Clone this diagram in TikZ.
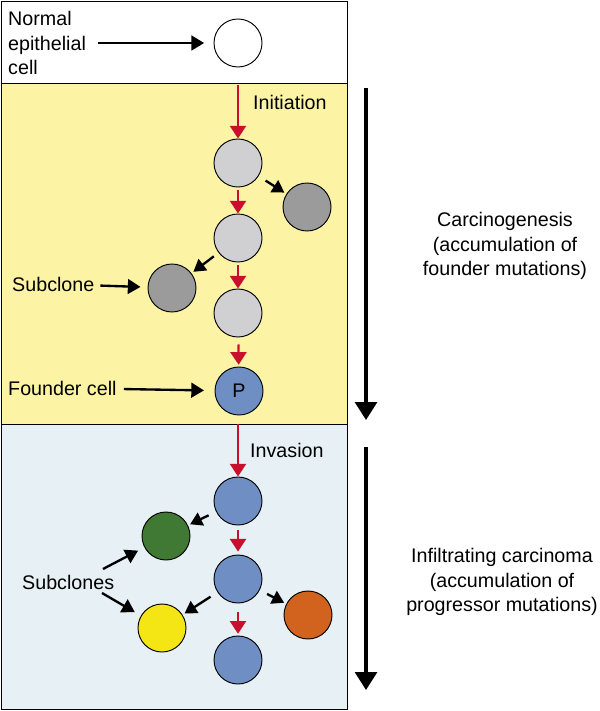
\documentclass[tikz,border=0pt]{standalone}
\usepackage{fontspec}
\setmainfont{Liberation Sans}
\usetikzlibrary{arrows.meta,positioning,calc}

\definecolor{boxyellow}{HTML}{FCF3A5}
\definecolor{boxblue}{HTML}{E7F0F5}
\definecolor{cellgray}{HTML}{D0D0D2}
\definecolor{subgray}{HTML}{9B9B9B}
\definecolor{cellblue}{HTML}{6F8FC4}
\definecolor{cellgreen}{HTML}{3F7934}
\definecolor{cellyellow}{HTML}{F4E515}
\definecolor{cellorange}{HTML}{D1631F}
\definecolor{arrowred}{HTML}{C8102E}

\begin{document}
\begin{tikzpicture}[
    x=0.03cm, y=-0.03cm,
    every node/.style={font=\fontsize{16.8}{21}\selectfont},
    cell/.style={circle, draw, line width=0.8pt, minimum size=1.44cm, inner sep=0pt},
    normalcell/.style={cell, fill=white},
    earlycell/.style={cell, fill=cellgray},
    branchcell/.style={cell, fill=subgray},
    tumorcell/.style={cell, fill=cellblue},
    labeltext/.style={inner sep=0pt, align=left},
    redarrow/.style={-{Triangle[length=3.8mm, width=4.8mm]}, draw=arrowred, line width=1.9pt},
    blkarrow/.style={-{Triangle[length=3.8mm, width=4.4mm]}, line width=2pt},
    splitarrow/.style={-{Triangle[length=3.6mm, width=4.2mm]}, line width=2pt},
    bigarrow/.style={-{Triangle[length=5.4mm, width=6.6mm]}, line width=2.6pt}
]
\useasboundingbox (0,0) rectangle (600,711);

% Boxes
\draw[line width=0.8pt, fill=white] (1,1) rectangle (347,83);
\draw[line width=0.8pt, fill=boxyellow] (1,83) rectangle (347,424);
\draw[line width=0.8pt, fill=boxblue] (1,424) rectangle (347,709);

% Normal cell
\node[normalcell] (normal) at (238,43) {};
\node[labeltext, anchor=west] (normaltxt) at (8,43) {Normal\\epithelial\\cell};

% Carcinogenesis
\node[earlycell] (g1) at (238,163) {};
\node[earlycell] (g2) at (238,238) {};
\node[earlycell] (g3) at (238,313) {};
\node[branchcell] (dr) at (307,207) {};
\node[branchcell] (dl) at (172,288) {};
\node[tumorcell] (P) at (239,391) {P};
\node[labeltext, anchor=west] (inittxt) at (253,102) {Initiation};
\node[labeltext, anchor=west] (subtxt) at (12,284) {Subclone};
\node[labeltext, anchor=west] (foundertxt) at (8,388) {Founder cell};
\coordinate (initpt) at (238,85);

% Infiltrating carcinoma
\node[tumorcell] (b1) at (238,501) {};
\node[tumorcell] (b2) at (238,579) {};
\node[tumorcell] (b3) at (238,660) {};
\node[cell, fill=cellgreen] (green) at (166,536) {};
\node[cell, fill=cellyellow] (yellow) at (162,628) {};
\node[cell, fill=cellorange] (orange) at (308,615) {};
\node[labeltext, anchor=west] (invtxt) at (250,450) {Invasion};
\node[labeltext, anchor=west] (substxt) at (22,582) {Subclones};
\coordinate (invpt) at (238,424);
\coordinate (subsup) at (103,569);
\coordinate (subsdn) at (102,593);

% Stages
\coordinate (stageA) at (366,88);
\coordinate (stageAend) at (366,420);
\coordinate (stageB) at (366,447);
\coordinate (stageBend) at (366,690);
\node[align=center] (carcino) at (505,246) {Carcinogenesis\\(accumulation of\\founder mutations)};
\node[align=center] (infiltr) at (502,582) {Infiltrating carcinoma\\(accumulation of\\progressor mutations)};

% Edges
\draw[blkarrow, shorten <=10pt, shorten >=8pt] (normaltxt.east |- normal) -- (normal);
\draw[redarrow] (initpt) -- (g1);
\draw[redarrow, shorten <=2.5pt] (g1) -- (g2);
\draw[redarrow, shorten <=2.5pt] (g2) -- (g3);
\draw[redarrow, shorten <=6pt, shorten >=1.5pt] (g3) -- (P);
\draw[splitarrow, shorten <=7pt, shorten >=2pt] (g1) -- (dr);
\draw[splitarrow, shorten <=5pt, shorten >=2pt] (g2) -- (dl);
\draw[blkarrow, shorten <=5pt, shorten >=6pt] (subtxt) -- (dl);
\draw[blkarrow, shorten <=6pt, shorten >=9pt] (foundertxt) -- (P);

\draw[redarrow] (invpt) -- (b1);
\draw[redarrow, shorten <=3.5pt, shorten >=2.5pt] (b1) -- (b2);
\draw[redarrow, shorten <=7pt, shorten >=1.5pt] (b2) -- (b3);
\draw[splitarrow, shorten <=7pt, shorten >=2pt] (b1) -- (green);
\draw[splitarrow, shorten <=7pt, shorten >=2pt] (b2) -- (orange);
\draw[splitarrow, shorten <=7pt, shorten >=2pt] (b2) -- (yellow);
\draw[blkarrow, shorten >=6pt] (subsup) -- (green);
\draw[blkarrow, shorten >=6pt] (subsdn) -- (yellow);

\draw[bigarrow] (stageA) -- (stageAend);
\draw[bigarrow] (stageB) -- (stageBend);
\end{tikzpicture}
\end{document}
